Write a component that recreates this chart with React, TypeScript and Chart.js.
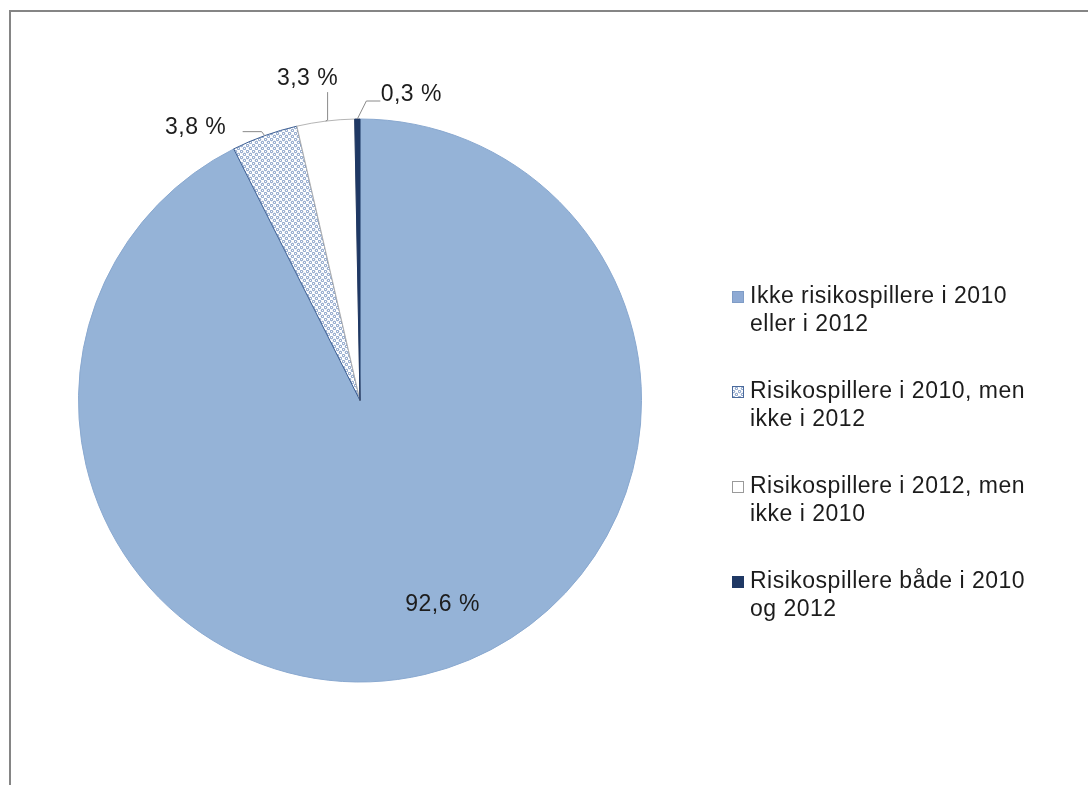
import React, { useEffect, useRef } from "react";
import { Chart, registerables } from "chart.js";

Chart.register(...registerables);

// ---- data ----
const categories: string[][] = [
  ["Ikke risikospillere i 2010", "eller i 2012"],
  ["Risikospillere i 2010, men", "ikke i 2012"],
  ["Risikospillere i 2012, men", "ikke i 2010"],
  ["Risikospillere både i 2010", "og 2012"],
];
const shares = [92.6, 3.8, 3.3, 0.3];
const valueLabels = ["92,6 %", "3,8 %", "3,3 %", "0,3 %"];

// ---- style ----
const FONT = '23px "Liberation Sans", Arial, sans-serif';
const LETTER_SPACING = "0.5px";
const TEXT_COLOR = "#1c1c1c";
const FILLS = ["#95b3d7", "PATTERN", "#ffffff", "#1f3864"];
const EDGES = ["#8aa9d0", "#3d5f94", "#b5b5b5", "#1f3864"];
const LEGEND_FILLS = ["#8eaad4", "PATTERN", "#ffffff", "#1f3864"];
const LEGEND_EDGES = ["#7f9cc6", "#4a6a9c", "#9a9a9a", "#1f3864"];
// label placement relative to the arc (radial fraction of radius, then pixel offset)
const LABEL_PLACE: { r: number; dx: number; dy: number; leader?: number[][] }[] = [
  { r: 0.78, dx: 32, dy: -10 },
  { r: 1, dx: -69, dy: -8, leader: [[-3, -4], [-22, -4]] },
  { r: 1, dx: -18, dy: -42, leader: [[2, -1], [2, -29]] },
  { r: 1, dx: 54, dy: -24, leader: [[9, -18], [23, -18]] },
];
const LEGEND = { markerX: 732, textX: 750, firstBaseline: 303, entryGap: 95, lineGap: 28, marker: 12 };

function makeDots(): CanvasPattern | string {
  const c = document.createElement("canvas");
  c.width = 6;
  c.height = 6;
  const g = c.getContext("2d");
  if (!g) return "#c0cde0";
  g.fillStyle = "#ffffff";
  g.fillRect(0, 0, 6, 6);
  g.strokeStyle = "#5f80b4";
  g.lineWidth = 0.9;
  g.beginPath();
  g.arc(1.5, 1.5, 1.2, 0, Math.PI * 2);
  g.stroke();
  g.beginPath();
  g.arc(4.5, 4.5, 1.2, 0, Math.PI * 2);
  g.stroke();
  return g.createPattern(c, "repeat") || "#c0cde0";
}

export default function App() {
  const ref = useRef<HTMLCanvasElement>(null);

  useEffect(() => {
    if (!ref.current) return;
    const dots = makeDots();
    const fills = FILLS.map((f) => (f === "PATTERN" ? dots : f));
    const legendFills = LEGEND_FILLS.map((f) => (f === "PATTERN" ? dots : f));

    const overlay = {
      id: "overlay",
      beforeDraw(chart: any) {
        const ctx = chart.ctx as CanvasRenderingContext2D;
        ctx.save();
        ctx.fillStyle = "#ffffff";
        ctx.fillRect(0, 0, chart.width, chart.height);
        ctx.strokeStyle = "#858585";
        ctx.lineWidth = 2;
        ctx.beginPath();
        ctx.moveTo(chart.width, 11);
        ctx.lineTo(10, 11);
        ctx.lineTo(10, chart.height);
        ctx.stroke();
        ctx.restore();
      },
      afterDatasetsDraw(chart: any) {
        const ctx = chart.ctx as CanvasRenderingContext2D;
        const meta = chart.getDatasetMeta(0);
        ctx.save();
        ctx.font = FONT;
        (ctx as any).letterSpacing = LETTER_SPACING;
        ctx.fillStyle = TEXT_COLOR;
        ctx.textAlign = "center";
        ctx.textBaseline = "middle";
        meta.data.forEach((arc: any, i: number) => {
          const p = LABEL_PLACE[i];
          const mid = (arc.startAngle + arc.endAngle) / 2;
          const ax = arc.x + Math.cos(mid) * arc.outerRadius * p.r;
          const ay = arc.y + Math.sin(mid) * arc.outerRadius * p.r;
          if (p.leader) {
            ctx.strokeStyle = "#8a8a8a";
            ctx.lineWidth = 1;
            ctx.beginPath();
            ctx.moveTo(ax, ay);
            p.leader.forEach(([lx, ly]) => ctx.lineTo(ax + lx, ay + ly));
            ctx.stroke();
          }
          ctx.fillText(valueLabels[i], ax + p.dx, ay + p.dy);
        });

        // legend
        ctx.textAlign = "left";
        ctx.textBaseline = "alphabetic";
        const labels = chart.data.labels as string[][];
        labels.forEach((lines, i) => {
          const base = LEGEND.firstBaseline + i * LEGEND.entryGap;
          const m = LEGEND.marker;
          ctx.fillStyle = legendFills[i] as any;
          ctx.fillRect(LEGEND.markerX, base - m, m, m);
          ctx.strokeStyle = LEGEND_EDGES[i];
          ctx.lineWidth = 1;
          ctx.strokeRect(LEGEND.markerX + 0.5, base - m + 0.5, m - 1, m - 1);
          ctx.fillStyle = TEXT_COLOR;
          lines.forEach((line, j) => {
            ctx.fillText(line, LEGEND.textX, base + j * LEGEND.lineGap);
          });
        });
        ctx.restore();
      },
    };

    const chart = new Chart(ref.current, {
      type: "pie",
      data: {
        labels: categories as any,
        datasets: [
          {
            data: shares,
            backgroundColor: fills as any,
            borderColor: EDGES,
            borderWidth: 1,
          },
        ],
      },
      options: {
        responsive: false,
        animation: false,
        layout: { padding: { left: 78, top: 118.5, right: 446, bottom: 102.5 } },
        plugins: {
          legend: { display: false },
          tooltip: { enabled: false },
        },
      },
      plugins: [overlay],
    });
    return () => chart.destroy();
  }, []);

  return (
    <div style={{ position: "fixed", left: 0, top: 0, width: 1088, height: 785, background: "#fff" }}>
      <canvas ref={ref} width={1088} height={785} style={{ display: "block" }} />
    </div>
  );
}
